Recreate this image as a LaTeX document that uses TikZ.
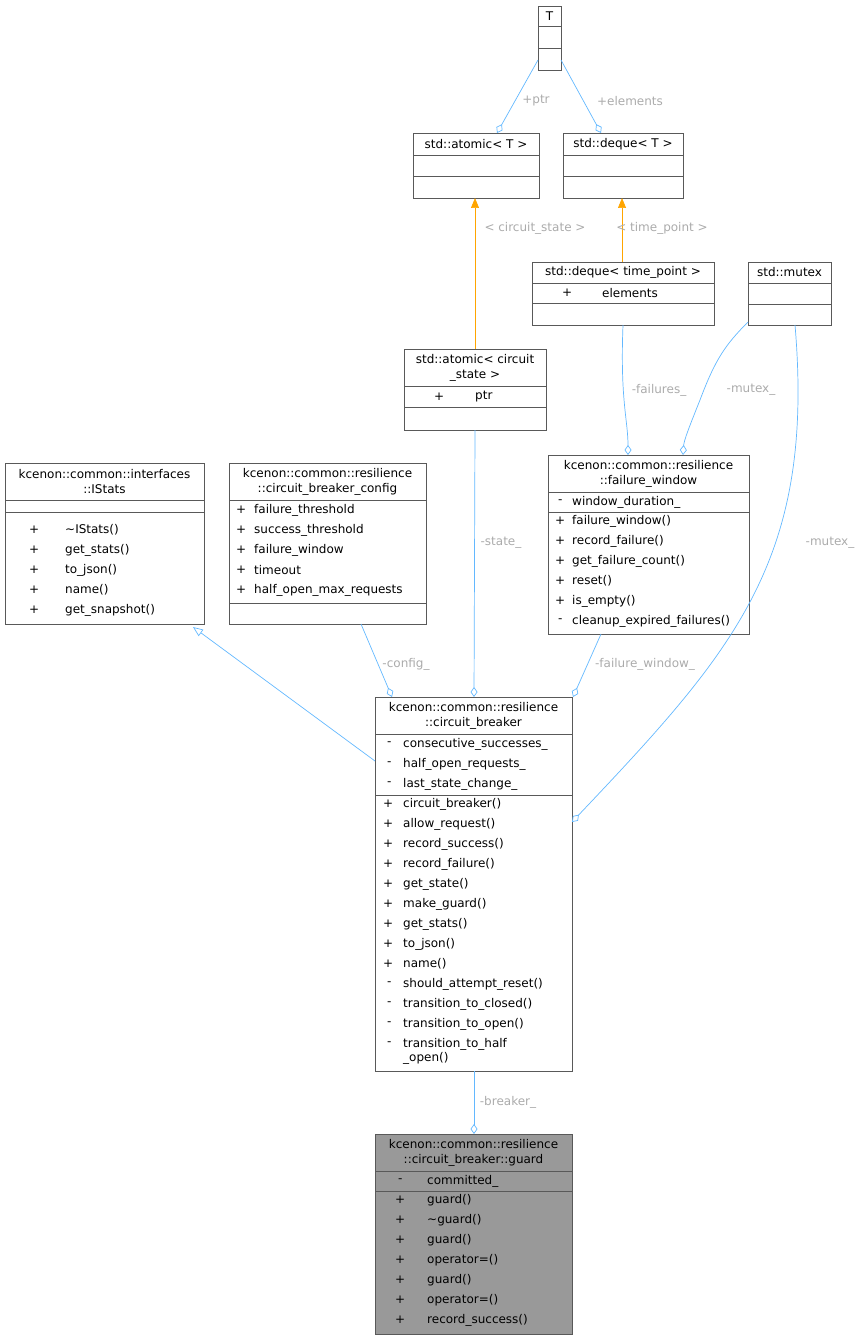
\documentclass[tikz,border=0pt]{standalone}
\usepackage{fontspec}
\setmainfont{DejaVu Sans}
\usetikzlibrary{arrows.meta}
\definecolor{edge}{HTML}{63B8FF}
\definecolor{lbl}{HTML}{ABABAB}
\definecolor{inst}{HTML}{FFA500}
\begin{document}
\begin{tikzpicture}[x=1pt,y=-1pt,
  font=\fontsize{12}{14}\selectfont,
  box/.style={draw=black!65,line width=0.7pt,anchor=north west,inner sep=0,outer sep=0},
  sep/.style={draw=black!65,line width=0.7pt},
  t/.style={anchor=west,inner sep=0},
  ttl/.style={align=center,inner sep=0,font=\fontsize{12}{15}\selectfont},
  lab/.style={text=lbl,inner sep=1pt},
  agg/.style={draw=edge,line width=0.7pt,-{Diamond[open,length=10pt,width=7pt]}},
  inh/.style={draw=edge,line width=0.7pt,-{Triangle[open,length=10pt,width=8pt]}},
  tpl/.style={draw=inst,line width=0.7pt,-{Triangle[length=10pt,width=8pt]}}]
\useasboundingbox (0,0) rectangle (865,1340);
% T
\node[box,minimum width=23pt,minimum height=64pt] (T) at (538,6) {};
\node[inner sep=0] (Tt) at (549.5,16) {T};
\draw[sep] (538,26)--(561,26) (538,48)--(561,48);
% atomic<T>
\node[box,minimum width=126pt,minimum height=65pt] (aT) at (413,133) {};
\node[inner sep=0] (aTt) at (476,144) {std::atomic< T >};
\draw[sep] (413,155)--(539,155) (413,176)--(539,176);
% deque<T>
\node[box,minimum width=120pt,minimum height=65pt] (dT) at (563,133) {};
\node[inner sep=0] (dTt) at (623,144) {std::deque< T >};
\draw[sep] (563,155)--(683,155) (563,176)--(683,176);
% deque<time_point>
\node[box,minimum width=182pt,minimum height=63pt] (dtp) at (532,262) {};
\node[inner sep=0] (dtpt) at (623,272.5) {std::deque< time\_point >};
\draw[sep] (532,283)--(714,283) (532,303)--(714,303);
\node[t] (dtp1) at (562,293) {+};
\node[t] (dtp2) at (602,293) {elements};
% mutex
\node[box,minimum width=83pt,minimum height=63pt] (mx) at (748,262) {};
\node[inner sep=0] (mxt) at (789.5,272.5) {std::mutex};
\draw[sep] (748,283)--(831,283) (748,304)--(831,304);
% atomic<circuit_state>
\node[box,minimum width=142pt,minimum height=81pt] (acs) at (404,349) {};
\node[ttl] (acst) at (475,367.5) {std::atomic< circuit\\\_state >};
\draw[sep] (404,386)--(546,386) (404,407)--(546,407);
\node[t] (acs1) at (434,396.5) {+};
\node[t] (acs2) at (475,396.5) {ptr};
% IStats
\node[box,minimum width=199pt,minimum height=161pt] (is) at (5,463) {};
\node[ttl] (ist) at (104.5,481.5) {kcenon::common::interfaces\\::IStats};
\draw[sep] (5,500)--(204,500) (5,512)--(204,512);
\node[t] (is1) at (29,530) {+};\node[t] (is1b) at (65,530) {\textasciitilde IStats()};
\node[t] (is2) at (29,550) {+};\node[t] (is2b) at (65,550) {get\_stats()};
\node[t] (is3) at (29,570) {+};\node[t] (is3b) at (65,570) {to\_json()};
\node[t] (is4) at (29,590) {+};\node[t] (is4b) at (65,590) {name()};
\node[t] (is5) at (29,610) {+};\node[t] (is5b) at (65,610) {get\_snapshot()};
% config
\node[box,minimum width=197pt,minimum height=161pt] (cfg) at (229,463) {};
\node[ttl] (cfgt) at (327.5,481.5) {kcenon::common::resilience\\::circuit\_breaker\_config};
\draw[sep] (229,500)--(426,500) (229,603)--(426,603);
\node[t] (c1) at (236,510) {+};\node[t] (c1b) at (254,510) {failure\_threshold};
\node[t] (c2) at (236,530) {+};\node[t] (c2b) at (254,530) {success\_threshold};
\node[t] (c3) at (236,550) {+};\node[t] (c3b) at (254,550) {failure\_window};
\node[t] (c4) at (236,570) {+};\node[t] (c4b) at (254,570) {timeout};
\node[t] (c5) at (236,590) {+};\node[t] (c5b) at (254,590) {half\_open\_max\_requests};
% failure_window
\node[box,minimum width=201pt,minimum height=179pt] (fw) at (548,455) {};
\node[ttl] (fwt) at (648.5,473.5) {kcenon::common::resilience\\::failure\_window};
\draw[sep] (548,492)--(749,492) (548,512)--(749,512);
\node[t] (f0) at (558,502) {-};\node[t] (f0b) at (572,502) {window\_duration\_};
\node[t] (f1) at (555,521) {+};\node[t] (f1b) at (572,521) {failure\_window()};
\node[t] (f2) at (555,541) {+};\node[t] (f2b) at (572,541) {record\_failure()};
\node[t] (f3) at (555,561) {+};\node[t] (f3b) at (572,561) {get\_failure\_count()};
\node[t] (f4) at (555,581) {+};\node[t] (f4b) at (572,581) {reset()};
\node[t] (f5) at (555,601) {+};\node[t] (f5b) at (572,601) {is\_empty()};
\node[t] (f6) at (558,621) {-};\node[t] (f6b) at (572,621) {cleanup\_expired\_failures()};
% circuit_breaker
\node[box,minimum width=197pt,minimum height=374pt] (cb) at (375,697) {};
\node[ttl] (cbt) at (473.5,715.5) {kcenon::common::resilience\\::circuit\_breaker};
\draw[sep] (375,734)--(572,734) (375,795)--(572,795);
\node[t] (b1) at (387,744) {-};\node[t] (b1b) at (403,744) {consecutive\_successes\_};
\node[t] (b2) at (387,764) {-};\node[t] (b2b) at (403,764) {half\_open\_requests\_};
\node[t] (b3) at (387,784) {-};\node[t] (b3b) at (403,784) {last\_state\_change\_};
\node[t] (m1) at (383,804) {+};\node[t] (m1b) at (403,804) {circuit\_breaker()};
\node[t] (m2) at (383,824) {+};\node[t] (m2b) at (403,824) {allow\_request()};
\node[t] (m3) at (383,844) {+};\node[t] (m3b) at (403,844) {record\_success()};
\node[t] (m4) at (383,864) {+};\node[t] (m4b) at (403,864) {record\_failure()};
\node[t] (m5) at (383,884) {+};\node[t] (m5b) at (403,884) {get\_state()};
\node[t] (m6) at (383,904) {+};\node[t] (m6b) at (403,904) {make\_guard()};
\node[t] (m7) at (383,924) {+};\node[t] (m7b) at (403,924) {get\_stats()};
\node[t] (m8) at (383,944) {+};\node[t] (m8b) at (403,944) {to\_json()};
\node[t] (m9) at (383,964) {+};\node[t] (m9b) at (403,964) {name()};
\node[t] (m10) at (387,984) {-};\node[t] (m10b) at (403,984) {should\_attempt\_reset()};
\node[t] (m11) at (387,1004) {-};\node[t] (m11b) at (403,1004) {transition\_to\_closed()};
\node[t] (m12) at (387,1024) {-};\node[t] (m12b) at (403,1024) {transition\_to\_open()};
\node[t] (m13) at (387,1044) {-};\node[t,align=left,font=\fontsize{12}{14}\selectfont] (m13b) at (403,1051) {transition\_to\_half\\\_open()};
% guard
\node[box,fill=black!40,minimum width=197pt,minimum height=200pt] (gd) at (375,1134) {};
\node[ttl] (gdt) at (473.5,1152.5) {kcenon::common::resilience\\::circuit\_breaker::guard};
\draw[sep] (375,1171)--(572,1171) (375,1191)--(572,1191);
\node[t] (g0) at (398,1181) {-};\node[t] (g0b) at (427,1181) {committed\_};
\node[t] (g1) at (395,1200) {+};\node[t] (g1b) at (427,1200) {guard()};
\node[t] (g2) at (395,1220) {+};\node[t] (g2b) at (427,1220) {\textasciitilde guard()};
\node[t] (g3) at (395,1240) {+};\node[t] (g3b) at (427,1240) {guard()};
\node[t] (g4) at (395,1260) {+};\node[t] (g4b) at (427,1260) {operator=()};
\node[t] (g5) at (395,1280) {+};\node[t] (g5b) at (427,1280) {guard()};
\node[t] (g6) at (395,1300) {+};\node[t] (g6b) at (427,1300) {operator=()};
\node[t] (g7) at (395,1320) {+};\node[t] (g7b) at (427,1320) {record\_success()};
% connector endpoints
\coordinate (cT1) at (538,60); \coordinate (cT2) at (561,60);
\coordinate (caT) at (497,133); \coordinate (cdT) at (601,133);
\coordinate (cacsN) at (475,349); \coordinate (caTS) at (475,198);
\coordinate (cdtpN) at (622,262); \coordinate (cdTS) at (622,198);
\coordinate (cdtpS) at (623,325); \coordinate (cfw1) at (628,455); \coordinate (cfw2) at (683,455);
\coordinate (cmx1) at (748,322); \coordinate (cmx2) at (795,325);
\coordinate (ccb1) at (572,822); \coordinate (cacsS) at (475,430); \coordinate (ccb2) at (474,697);
\coordinate (ccfg) at (361,624); \coordinate (ccb3) at (392,697);
\coordinate (cfwS) at (601,634); \coordinate (ccb4) at (573,697);
\coordinate (ccbW) at (375,761); \coordinate (cis) at (193,627);
\coordinate (ccbS) at (474,1071); \coordinate (cgd) at (474,1134);
% connectors
\draw[agg] (cT1) -- (caT);
\node[lab] (l1) at (536,101) {+ptr};
\draw[agg] (cT2) -- (cdT);
\node[lab] (l2) at (630,101) {+elements};
\draw[tpl] (cacsN) -- (caTS);
\node[lab] (l3) at (535,228) {< circuit\_state >};
\draw[tpl] (cdtpN) -- (cdTS);
\node[lab] (l4) at (662,228) {< time\_point >};
\draw[agg] (cdtpS) .. controls (620,400) and (628,420) .. (cfw1);
\node[lab] (l5) at (659,390) {-failures\_};
\draw[agg] (cmx1) .. controls (725,345) and (715,360) .. (700,400) .. controls (690,425) and (684,440) .. (cfw2);
\node[lab] (l6) at (751,390) {-mutex\_};
\draw[agg] (cmx2) .. controls (815,560) and (735,650) .. (ccb1);
\node[lab] (l7) at (830,543) {-mutex\_};
\draw[agg] (cacsS) -- (ccb2);
\node[lab] (l8) at (501,543) {-state\_};
\draw[agg] (ccfg) -- (ccb3);
\node[lab] (l9) at (406,664) {-config\_};
\draw[agg] (cfwS) -- (ccb4);
\node[lab] (l10) at (645,664) {-failure\_window\_};
\draw[inh] (ccbW) -- (cis);
\draw[agg] (ccbS) -- (cgd);
\node[lab] (l11) at (508,1102) {-breaker\_};
\end{tikzpicture}
\end{document}
